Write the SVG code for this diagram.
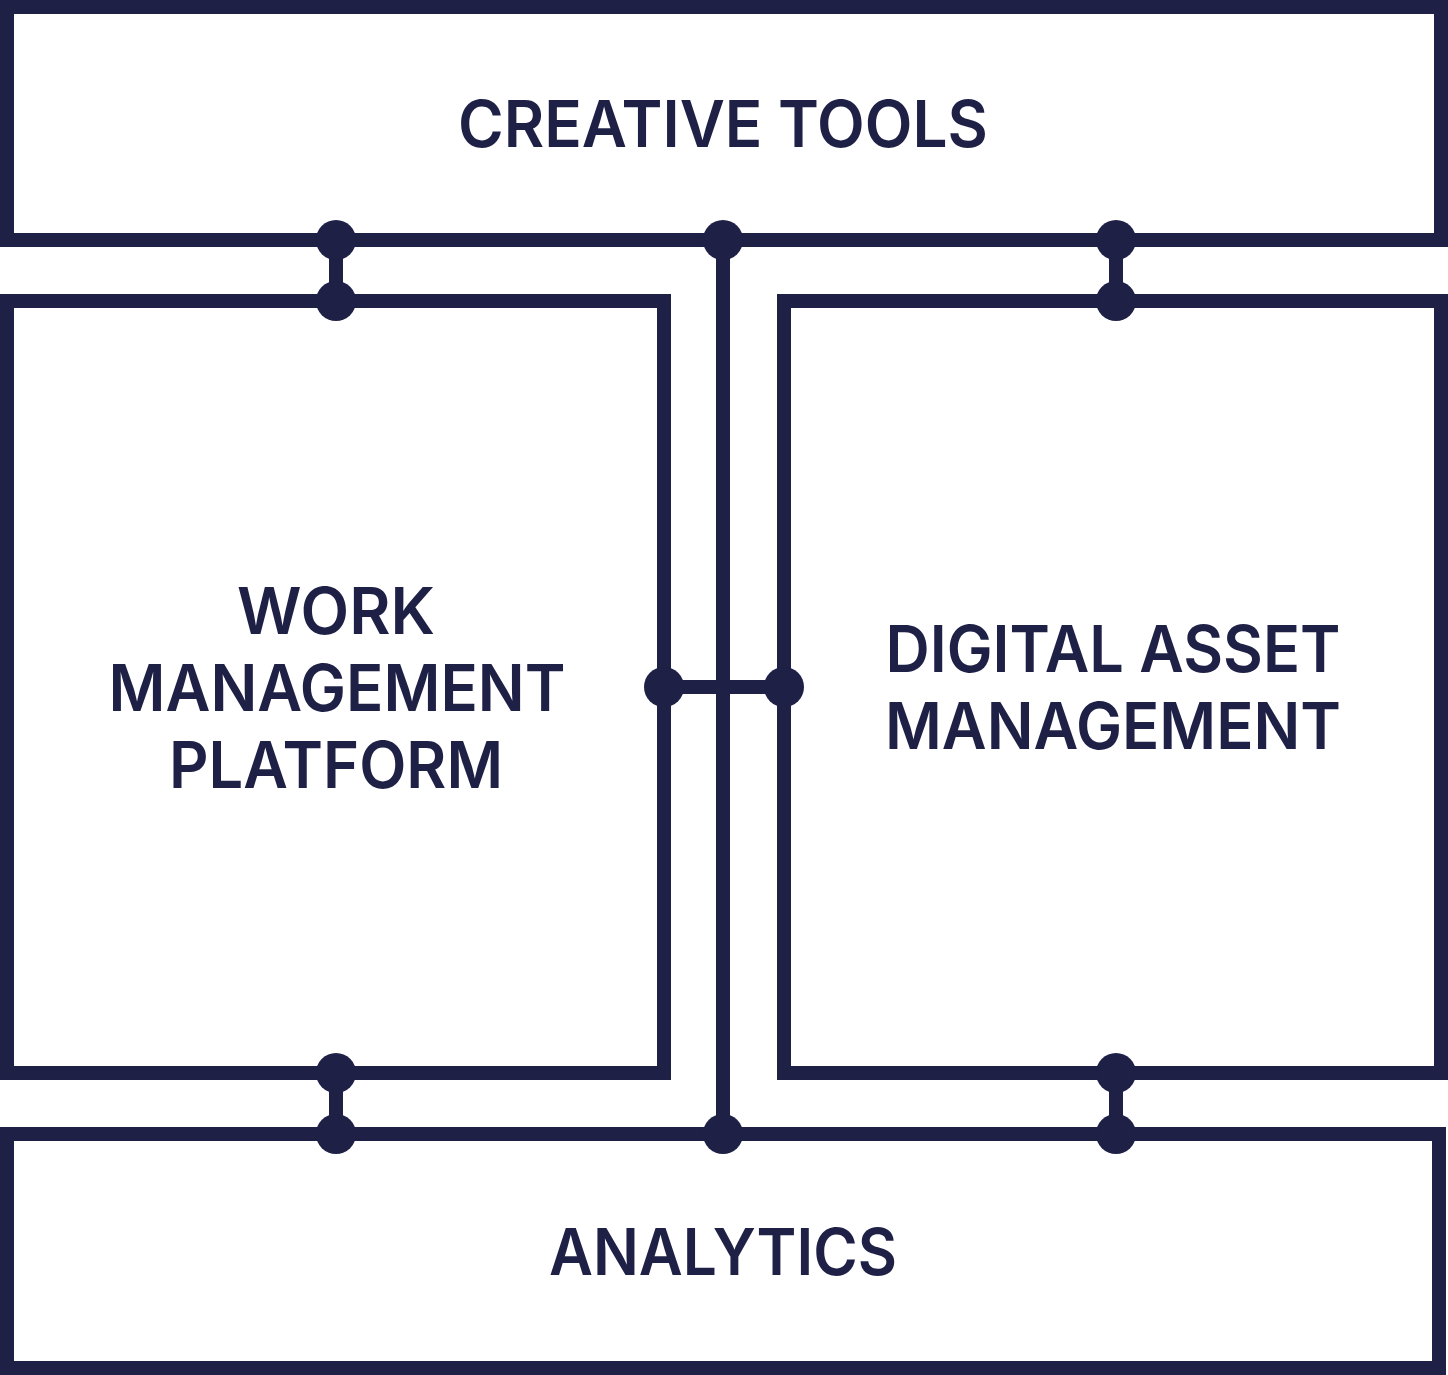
<svg xmlns="http://www.w3.org/2000/svg" width="1448" height="1375" viewBox="0 0 1448 1375">
<style>
.box{fill:none;stroke:#1e2046;stroke-width:14}
.lbl{font-family:Inter,"Liberation Sans",sans-serif;font-weight:600;font-size:65px;fill:#1e2046;text-anchor:middle}
.link{stroke:#1e2046;stroke-width:14;fill:none}
.dot{fill:#1e2046}
</style>
<rect width="1448" height="1375" fill="#ffffff"/>
<g id="creative-tools">
<rect class="box" x="7" y="7" width="1434" height="233"/>
<text class="lbl" x="723" y="147" textLength="530" lengthAdjust="spacingAndGlyphs">CREATIVE TOOLS</text>
</g>
<g id="work-management-platform">
<rect class="box" x="7" y="301" width="657" height="772"/>
<text class="lbl" x="336" y="634" textLength="198" lengthAdjust="spacingAndGlyphs">WORK</text>
<text class="lbl" x="337" y="711" textLength="457" lengthAdjust="spacingAndGlyphs">MANAGEMENT</text>
<text class="lbl" x="336" y="788" textLength="334" lengthAdjust="spacingAndGlyphs">PLATFORM</text>
</g>
<g id="digital-asset-management">
<rect class="box" x="784" y="301" width="657" height="772"/>
<text class="lbl" x="1113" y="672" textLength="455" lengthAdjust="spacingAndGlyphs">DIGITAL ASSET</text>
<text class="lbl" x="1113" y="749" textLength="456" lengthAdjust="spacingAndGlyphs">MANAGEMENT</text>
</g>
<g id="analytics">
<rect class="box" x="7" y="1134" width="1432" height="234"/>
<text class="lbl" x="723" y="1275" textLength="348" lengthAdjust="spacingAndGlyphs">ANALYTICS</text>
</g>
<g id="connectors">
<line class="link" x1="336" y1="240" x2="336" y2="301"/>
<line class="link" x1="1116" y1="240" x2="1116" y2="301"/>
<line class="link" x1="336" y1="1073" x2="336" y2="1134"/>
<line class="link" x1="1116" y1="1073" x2="1116" y2="1134"/>
<line class="link" x1="723" y1="240" x2="723" y2="1134"/>
<line class="link" x1="664" y1="687" x2="784" y2="687"/>
<circle class="dot" cx="336" cy="240" r="20"/>
<circle class="dot" cx="723" cy="240" r="20"/>
<circle class="dot" cx="1116" cy="240" r="20"/>
<circle class="dot" cx="336" cy="301" r="20"/>
<circle class="dot" cx="1116" cy="301" r="20"/>
<circle class="dot" cx="664" cy="687" r="20"/>
<circle class="dot" cx="784" cy="687" r="20"/>
<circle class="dot" cx="336" cy="1073" r="20"/>
<circle class="dot" cx="1116" cy="1073" r="20"/>
<circle class="dot" cx="336" cy="1134" r="20"/>
<circle class="dot" cx="723" cy="1134" r="20"/>
<circle class="dot" cx="1116" cy="1134" r="20"/>
</g>
</svg>
